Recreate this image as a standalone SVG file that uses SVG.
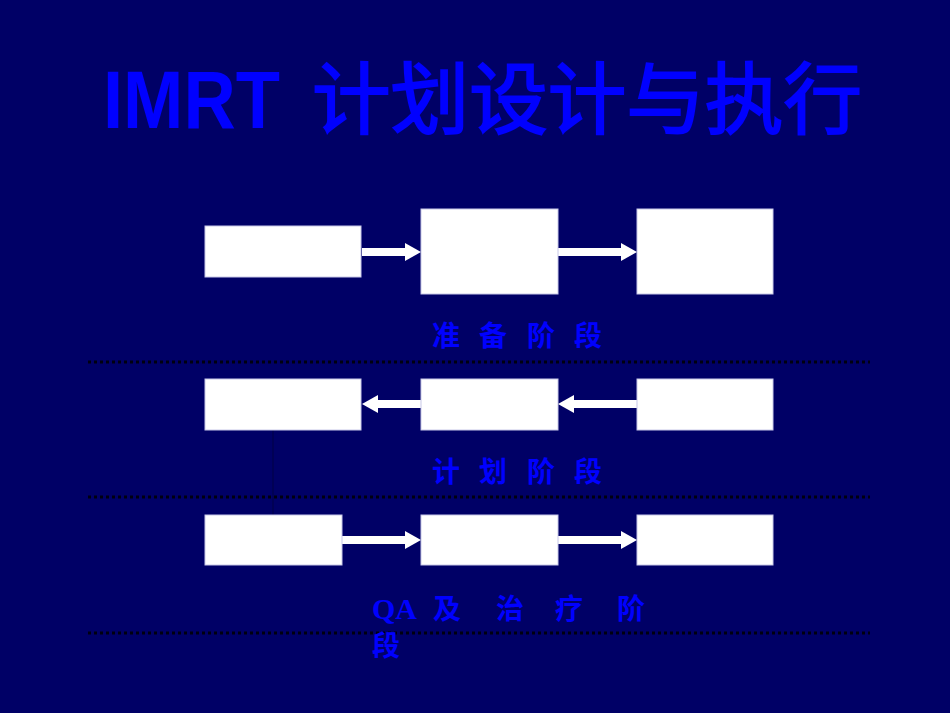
<svg xmlns="http://www.w3.org/2000/svg" width="950" height="713" viewBox="0 0 950 713">
<defs>
<style>
.box{fill:#ffffff;stroke:#c8c8e8;stroke-width:1}
.conn{stroke:#ffffff;stroke-width:8;fill:none}
.head{fill:#ffffff}
.sep{stroke:#00000f;stroke-width:3;stroke-dasharray:3 3;fill:none}
.lbl{font-family:"Noto Sans CJK SC","Noto Sans",sans-serif;font-size:28px;font-weight:bold;fill:#0000ff}
.qa{font-family:"Liberation Serif",serif;font-size:30px;font-weight:bold;fill:#0000ff}
</style>
</defs>
<rect x="0" y="0" width="950" height="713" fill="#000066"/>
<g id="title">
<text x="103" y="128" font-family="Liberation Sans,Arial,sans-serif" font-size="82" font-weight="bold" fill="#0000ff" textLength="177" lengthAdjust="spacingAndGlyphs">IMRT</text>
<text x="312" y="128" font-family="Noto Sans CJK SC,sans-serif" font-size="78" fill="#0000ff" stroke="#0000ff" stroke-width="2" textLength="550" lengthAdjust="spacingAndGlyphs">计划设计与执行</text>
</g>
<g id="separators">
<line class="sep" x1="88" y1="362" x2="870" y2="362"/>
<line class="sep" x1="88" y1="497" x2="870" y2="497"/>
<line class="sep" x1="88" y1="633" x2="870" y2="633"/>
<line x1="273" y1="430" x2="273" y2="515" stroke="#000050" stroke-width="1.5"/>
</g>
<g id="connectors">
<line class="conn" x1="362" y1="252" x2="408" y2="252"/>
<path class="head" d="M405,243 L421,252 L405,261 Z"/>
<line class="conn" x1="558" y1="252" x2="624" y2="252"/>
<path class="head" d="M621,243 L637,252 L621,261 Z"/>
<line class="conn" x1="421" y1="404" x2="375" y2="404"/>
<path class="head" d="M378,395 L362,404 L378,413 Z"/>
<line class="conn" x1="637" y1="404" x2="571" y2="404"/>
<path class="head" d="M574,395 L558,404 L574,413 Z"/>
<line class="conn" x1="342" y1="540" x2="408" y2="540"/>
<path class="head" d="M405,531 L421,540 L405,549 Z"/>
<line class="conn" x1="558" y1="540" x2="624" y2="540"/>
<path class="head" d="M621,531 L637,540 L621,549 Z"/>
</g>
<g id="n1"><rect class="box" x="205" y="226" width="156" height="51"/></g>
<g id="n2"><rect class="box" x="421" y="209" width="137" height="85"/></g>
<g id="n3"><rect class="box" x="637" y="209" width="136" height="85"/></g>
<g id="n4"><rect class="box" x="205" y="379" width="156" height="51"/></g>
<g id="n5"><rect class="box" x="421" y="379" width="137" height="51"/></g>
<g id="n6"><rect class="box" x="637" y="379" width="136" height="51"/></g>
<g id="n7"><rect class="box" x="205" y="515" width="137" height="50"/></g>
<g id="n8"><rect class="box" x="421" y="515" width="137" height="50"/></g>
<g id="n9"><rect class="box" x="637" y="515" width="136" height="50"/></g>
<g id="label-prep">
<text class="lbl" y="346"><tspan x="432">准</tspan><tspan x="479">备</tspan><tspan x="527">阶</tspan><tspan x="574">段</tspan></text>
</g>
<g id="label-plan">
<text class="lbl" y="482"><tspan x="432">计</tspan><tspan x="479">划</tspan><tspan x="527">阶</tspan><tspan x="574">段</tspan></text>
</g>
<g id="label-qa">
<text class="qa" x="372" y="619">QA</text>
<text class="lbl" y="619"><tspan x="433">及</tspan><tspan x="496">治</tspan><tspan x="555">疗</tspan><tspan x="617">阶</tspan></text>
<text class="lbl" x="372" y="656">段</text>
</g>
</svg>
